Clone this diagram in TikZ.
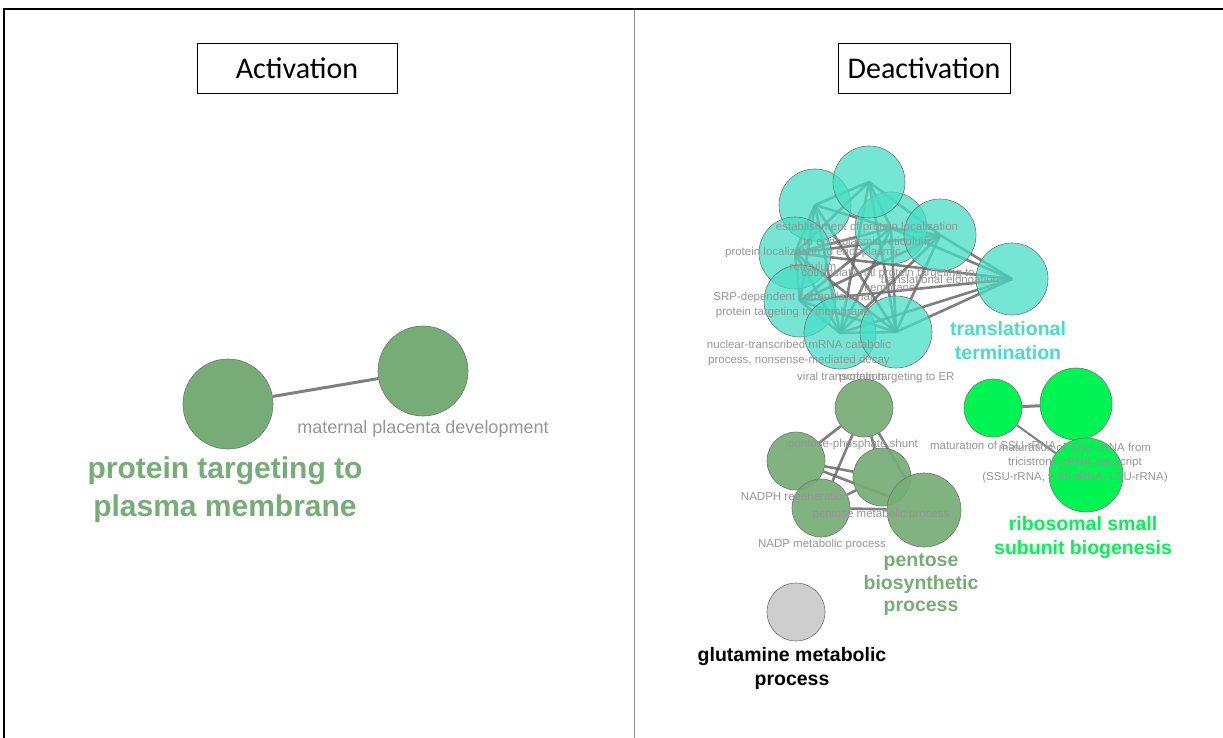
\documentclass[tikz,border=0pt]{standalone}
\usepackage{fontspec}
\setmainfont{Liberation Sans}
\newfontfamily\titlefont{Carlito}
\usetikzlibrary{backgrounds}

\definecolor{turq}{RGB}{70,222,196}
\definecolor{sage}{RGB}{118,172,118}
\definecolor{lime}{RGB}{0,245,82}
\definecolor{nodegray}{RGB}{206,206,206}
\definecolor{linkgray}{RGB}{105,105,105}
\definecolor{labelgray}{RGB}{150,150,150}

\begin{document}
\begin{tikzpicture}[x=1pt,y=-1pt,
    term/.style={circle,draw=black!55,line width=0.6pt,inner sep=0pt},
    tq/.style={term,fill=turq,fill opacity=0.75,minimum size=72pt},
    sg/.style={term,fill=sage,fill opacity=0.92,minimum size=58pt},
    lm/.style={term,fill=lime,minimum size=58pt},
    link/.style={draw=linkgray,line width=2.6pt,opacity=0.85},
    small/.style={text=labelgray,align=center,font=\fontsize{11.5}{14.5}\selectfont,inner sep=0pt},
    big/.style={align=center,font=\fontsize{19.5}{24}\selectfont\bfseries,inner sep=0pt},
    titlebox/.style={draw,line width=0.8pt,minimum width=200pt,minimum height=50pt,font=\titlefont\fontsize{30}{32}\selectfont}
]
    \useasboundingbox (0,0) rectangle (1223,738);

    % frame
    \draw[line width=2.5pt] (4,738) -- (4,9) -- (1223,9);
    \draw[black!45,line width=0.8pt] (634,10) -- (634,738);

    \node[titlebox] (act) at (297,68) {Activation};
    \node[titlebox,minimum width=172pt] (deact) at (924,68) {Deactivation};

    % activation
    \node[sg,fill opacity=1,minimum size=90pt] (a1) at (228,404) {};
    \node[sg,fill opacity=1,minimum size=90pt] (a2) at (423,371) {};
    \node[small,font=\fontsize{18}{20}\selectfont] (a2lab) at (423,429) {maternal placenta development};
    \node[big,text=sage,font=\fontsize{30}{38}\selectfont\bfseries] (a1lab) at (225,490) {protein targeting to\\plasma membrane};

    % deactivation: turquoise cluster
    \node[tq] (c1) at (815,205) {};
    \node[tq] (c3) at (891,228) {};
    \node[tq] (c2) at (869,182) {};
    \node[tq] (c4) at (940,235) {};
    \node[tq] (c5) at (795,253) {};
    \node[tq] (c6) at (800,301) {};
    \node[tq] (c7) at (840,333) {};
    \node[tq] (c8) at (896,332) {};
    \node[tq] (c9) at (1012,279) {};

    % deactivation: pentose cluster
    \node[sg] (p1) at (864,408) {};
    \node[sg] (p2) at (796,461) {};
    \node[sg] (p3) at (882,477) {};
    \node[sg] (p4) at (821,508) {};
    \node[sg,minimum size=74pt] (p5) at (924,510) {};

    % deactivation: ribosome cluster
    \node[lm] (g1) at (993,408) {};
    \node[lm,minimum size=72pt] (g2) at (1076,404) {};
    \node[lm,minimum size=74pt] (g3) at (1086,475) {};

    \node[term,fill=nodegray,minimum size=58pt] (q1) at (796,612) {};

    \begin{scope}[on background layer]
        \draw[link,line width=3pt] (a1) -- (a2);
        \foreach \a/\b in {c1/c2,c1/c3,c1/c5,c1/c6,c1/c7,c1/c8,c2/c3,c2/c4,c2/c5,c2/c7,c2/c8,
                c3/c4,c3/c5,c3/c6,c3/c7,c3/c8,c4/c5,c4/c6,c4/c7,c4/c8,c5/c6,c5/c7,c5/c8,
                c6/c7,c6/c8,c7/c8,c9/c3,c9/c4,c9/c5,c9/c6,c9/c7,c9/c8}
            \draw[link] (\a.center) -- (\b.center);
        \foreach \a/\b in {p1/p2,p1/p3,p1/p4,p1/p5,p2/p3,p2/p5,p4/p5,p4/p3}
            \draw[link] (\a) -- (\b);
        \draw[link,line width=3pt] (g1) -- (g2);
        \draw[link,line width=2pt] (g1) -- (g3);
    \end{scope}

    % small labels
    \node[small] (c3lab) at (867,235) {establishment of protein localization\\to endoplasmic reticulum};
    \node[small] (c5lab) at (813,259) {protein localization to endoplasmic\\reticulum};
    \node[small] (c8lab) at (888,280) {cotranslational protein targeting to\\membrane};
    \node[small] (c9lab) at (940,281) {translational elongation};
    \node[small] (c6lab) at (793,305) {SRP-dependent cotranslational\\protein targeting to membrane};
    \node[small] (c7lab) at (799,353) {nuclear-transcribed mRNA catabolic\\process, nonsense-mediated decay};
    \node[small,anchor=west] (vlab) at (797,378) {viral transcription};
    \node[small] (erlab) at (897,378) {protein targeting to ER};

    \node[small] (p1lab) at (853,445) {pentose-phosphate shunt};
    \node[small] (p2lab) at (795,498) {NADPH regeneration};
    \node[small] (p5lab) at (881,515) {pentose metabolic process};
    \node[small] (p4lab) at (822,545) {NADP metabolic process};

    \node[small] (g1lab) at (993,445) {maturation of SSU-rRNA};
    \node[small] (g3lab) at (1075,463) {maturation of SSU-rRNA from\\tricistronic rRNA transcript\\(SSU-rRNA, 5.8S rRNA, LSU-rRNA)};

    % cluster names
    \node[big,text=turq] (c9name) at (1008,341) {translational\\termination};
    \node[big,text=sage,font=\fontsize{19.5}{22.5}\selectfont\bfseries] (p5name) at (921,585) {pentose\\biosynthetic\\process};
    \node[big,text=lime] (g3name) at (1083,537) {ribosomal small\\subunit biogenesis};
    \node[big,text=black] (q1name) at (792,668) {glutamine metabolic\\process};
\end{tikzpicture}
\end{document}
